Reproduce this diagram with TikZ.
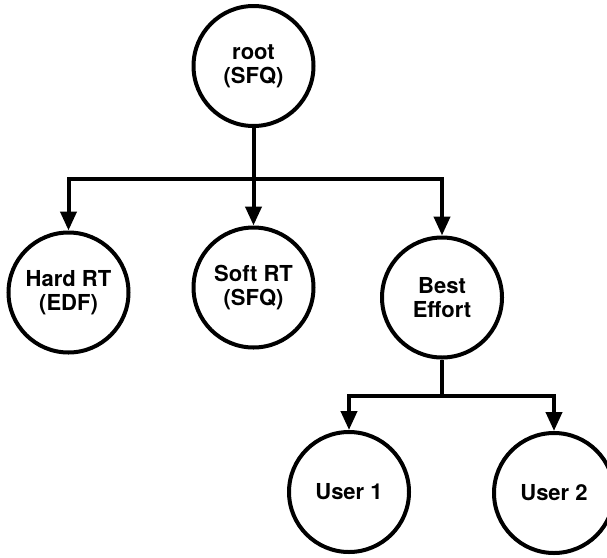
\documentclass[tikz,border=0pt]{standalone}
\usepackage{fontspec}
\setmainfont{TeX Gyre Heros}
\usetikzlibrary{arrows.meta}
\begin{document}
\begin{tikzpicture}[x=1pt,y=-1pt,
  qnode/.style={circle,draw,line width=4pt,minimum size=120pt,inner sep=0pt,align=center,
    font=\fontsize{22}{24}\selectfont\bfseries},
  conn/.style={line width=4pt},
  arr/.style={line width=4pt,-{Triangle[length=19pt,width=16pt]}}]
\useasboundingbox (0,0) rectangle (607,557);
\node[qnode] (root) at (253.5,66) {root\\(SFQ)};
\node[qnode] (hard) at (68.5,292.5) {Hard RT\\(EDF)};
\node[qnode] (soft) at (253.5,287.5) {Soft RT\\(SFQ)};
\node[qnode] (best) at (442,297.5) {Best\\Effort};
\node[qnode] (u1) at (349,492) {User 1};
\node[qnode] (u2) at (554,493) {User 2};
\coordinate (j1) at (253.5,179);
\coordinate (j2) at (442,396);
\draw[conn] (root) -- (j1);
\draw[arr] (j1) -| (hard);
\draw[arr] (j1) -- (soft);
\draw[arr] (j1) -| (best);
\draw[conn] (best) -- (j2);
\draw[arr] (j2) -| (u1);
\draw[arr] (j2) -| (u2);
\end{tikzpicture}
\end{document}
